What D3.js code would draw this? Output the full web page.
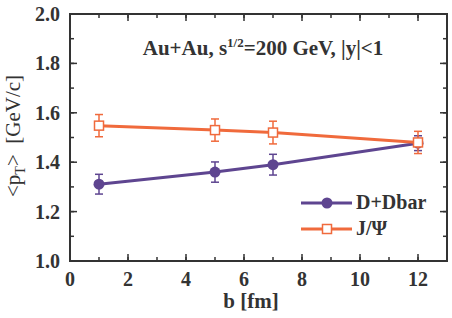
<!DOCTYPE html>
<html>
<head>
<meta charset="utf-8">
<script src="https://cdn.jsdelivr.net/npm/d3@7"></script>
<style>
  body { margin: 0; background: #fff; }
  text { font-family: "Liberation Serif", "Times New Roman", serif; font-weight: bold; fill: #333; }
</style>
</head>
<body>
<svg id="thesvg" width="452" height="318"></svg>
<script>
// impact parameter b [fm]
var bvals = [1, 5, 7, 12];
var names = ["D+Dbar", "J/\u03A8"];
var dmeson = [1.311, 1.360, 1.390, 1.477];
var dmesonErr = [0.040, 0.041, 0.042, 0.030];
var jpsi = [1.548, 1.530, 1.520, 1.480];
var jpsiErr = [0.045, 0.045, 0.046, 0.045];
var xticks = [0, 2, 4, 6, 8, 10, 12];
var yticks = [1.0, 1.2, 1.4, 1.6, 1.8, 2.0];

var colors = ["#5e4590", "#f06a3c"];
var axisColor = "#333";

var svg = d3.select("#thesvg");

var pLeft = 70, pRight = 447, pTop = 14, pBottom = 261;

var xScale = d3.scaleLinear().domain([0, 13]).range([pLeft, pRight]);
var yScale = d3.scaleLinear().domain([1.0, 2.0]).range([pBottom, pTop]);

// ticks, inward on all four sides
var minorX = d3.range(0, 14, 1);
var minorY = d3.range(1.0, 2.0001, 0.1);

function tickLines(g, vals, scale, horiz, len, pos, dir) {
    g.selectAll(null).data(vals).enter().append("line")
        .attr("x1", d => horiz ? scale(d) : pos)
        .attr("x2", d => horiz ? scale(d) : pos + dir * len)
        .attr("y1", d => horiz ? pos : scale(d))
        .attr("y2", d => horiz ? pos + dir * len : scale(d))
        .attr("stroke", axisColor)
        .attr("stroke-width", 1.5);
}

var axes = svg.append("g");
tickLines(axes, minorX, xScale, true, 4, pBottom, -1);
tickLines(axes, minorX, xScale, true, 4, pTop, 1);
tickLines(axes, xticks, xScale, true, 7, pBottom, -1);
tickLines(axes, xticks, xScale, true, 7, pTop, 1);
tickLines(axes, minorY, yScale, false, 4, pLeft, 1);
tickLines(axes, minorY, yScale, false, 4, pRight, -1);
tickLines(axes, yticks, yScale, false, 7, pLeft, 1);
tickLines(axes, yticks, yScale, false, 7, pRight, -1);

axes.append("rect")
    .attr("x", pLeft).attr("y", pTop)
    .attr("width", pRight - pLeft).attr("height", pBottom - pTop)
    .attr("fill", "none").attr("stroke", axisColor).attr("stroke-width", 2);

// tick labels
svg.selectAll(".xl").data(xticks).enter().append("text")
    .attr("x", d => xScale(d)).attr("y", 286)
    .attr("text-anchor", "middle").style("font-size", "20px")
    .text(d => d);
svg.selectAll(".yl").data(yticks).enter().append("text")
    .attr("x", 60).attr("y", d => yScale(d) + 7)
    .attr("text-anchor", "end").style("font-size", "20px")
    .text(d => d.toFixed(1));

// axis titles
svg.append("text")
    .attr("x", 251).attr("y", 308)
    .attr("text-anchor", "middle").style("font-size", "21px")
    .text("b [fm]");

var ylab = svg.append("text")
    .attr("transform", "translate(20,136) rotate(-90)")
    .attr("text-anchor", "middle").style("font-size", "21px").style("font-weight", "normal")
    .attr("xml:space", "preserve");
ylab.append("tspan").text("<p");
ylab.append("tspan").attr("dy", 5).style("font-size", "14px").text("T");
ylab.append("tspan").attr("dy", -5).text(">  [GeV/c]");

// title
var title = svg.append("text")
    .attr("x", 263).attr("y", 55)
    .attr("text-anchor", "middle").style("font-size", "21px");
title.append("tspan").text("Au+Au, s");
title.append("tspan").attr("dy", -8).style("font-size", "13px").text("1/2");
title.append("tspan").attr("dy", 8).text("=200 GeV, |y|<1");

// series
var series = [
    {name: names[0], vals: dmeson, err: dmesonErr, color: colors[0], filled: true},
    {name: names[1], vals: jpsi, err: jpsiErr, color: colors[1], filled: false}
];

var line = d3.line().x((d, i) => xScale(bvals[i])).y(d => yScale(d));

series.forEach(function(s) {
    var g = svg.append("g");
    g.append("path").datum(s.vals)
        .attr("d", line).attr("fill", "none")
        .attr("stroke", s.color).attr("stroke-width", 3);
    s.vals.forEach(function(v, i) {
        var x = xScale(bvals[i]);
        var y0 = yScale(v - s.err[i]), y1 = yScale(v + s.err[i]);
        g.append("line").attr("x1", x).attr("x2", x).attr("y1", y0).attr("y2", y1)
            .attr("stroke", s.color).attr("stroke-width", 1.5);
        [y0, y1].forEach(function(yy) {
            g.append("line").attr("x1", x - 4).attr("x2", x + 4).attr("y1", yy).attr("y2", yy)
                .attr("stroke", s.color).attr("stroke-width", 1.5);
        });
    });
    s.vals.forEach(function(v, i) {
        var x = xScale(bvals[i]), y = yScale(v);
        if (s.filled) {
            g.append("circle").attr("cx", x).attr("cy", y).attr("r", 5.5).attr("fill", s.color);
        } else {
            g.append("rect").attr("x", x - 4.5).attr("y", y - 4.5).attr("width", 9).attr("height", 9)
                .attr("fill", "#fff").attr("stroke", s.color).attr("stroke-width", 1.5);
        }
    });
});

// legend
series.forEach(function(s, k) {
    var ly = 203 + k * 26;
    var g = svg.append("g");
    g.append("line").attr("x1", 301).attr("x2", 352).attr("y1", ly).attr("y2", ly)
        .attr("stroke", s.color).attr("stroke-width", 3);
    if (s.filled) {
        g.append("circle").attr("cx", 327).attr("cy", ly).attr("r", 5.5).attr("fill", s.color);
    } else {
        g.append("rect").attr("x", 322.5).attr("y", ly - 4.5).attr("width", 9).attr("height", 9)
            .attr("fill", "#fff").attr("stroke", s.color).attr("stroke-width", 1.5);
    }
    g.append("text").attr("x", 356).attr("y", ly + 6).style("font-size", "20px").text(s.name);
});
</script>
</body>
</html>
